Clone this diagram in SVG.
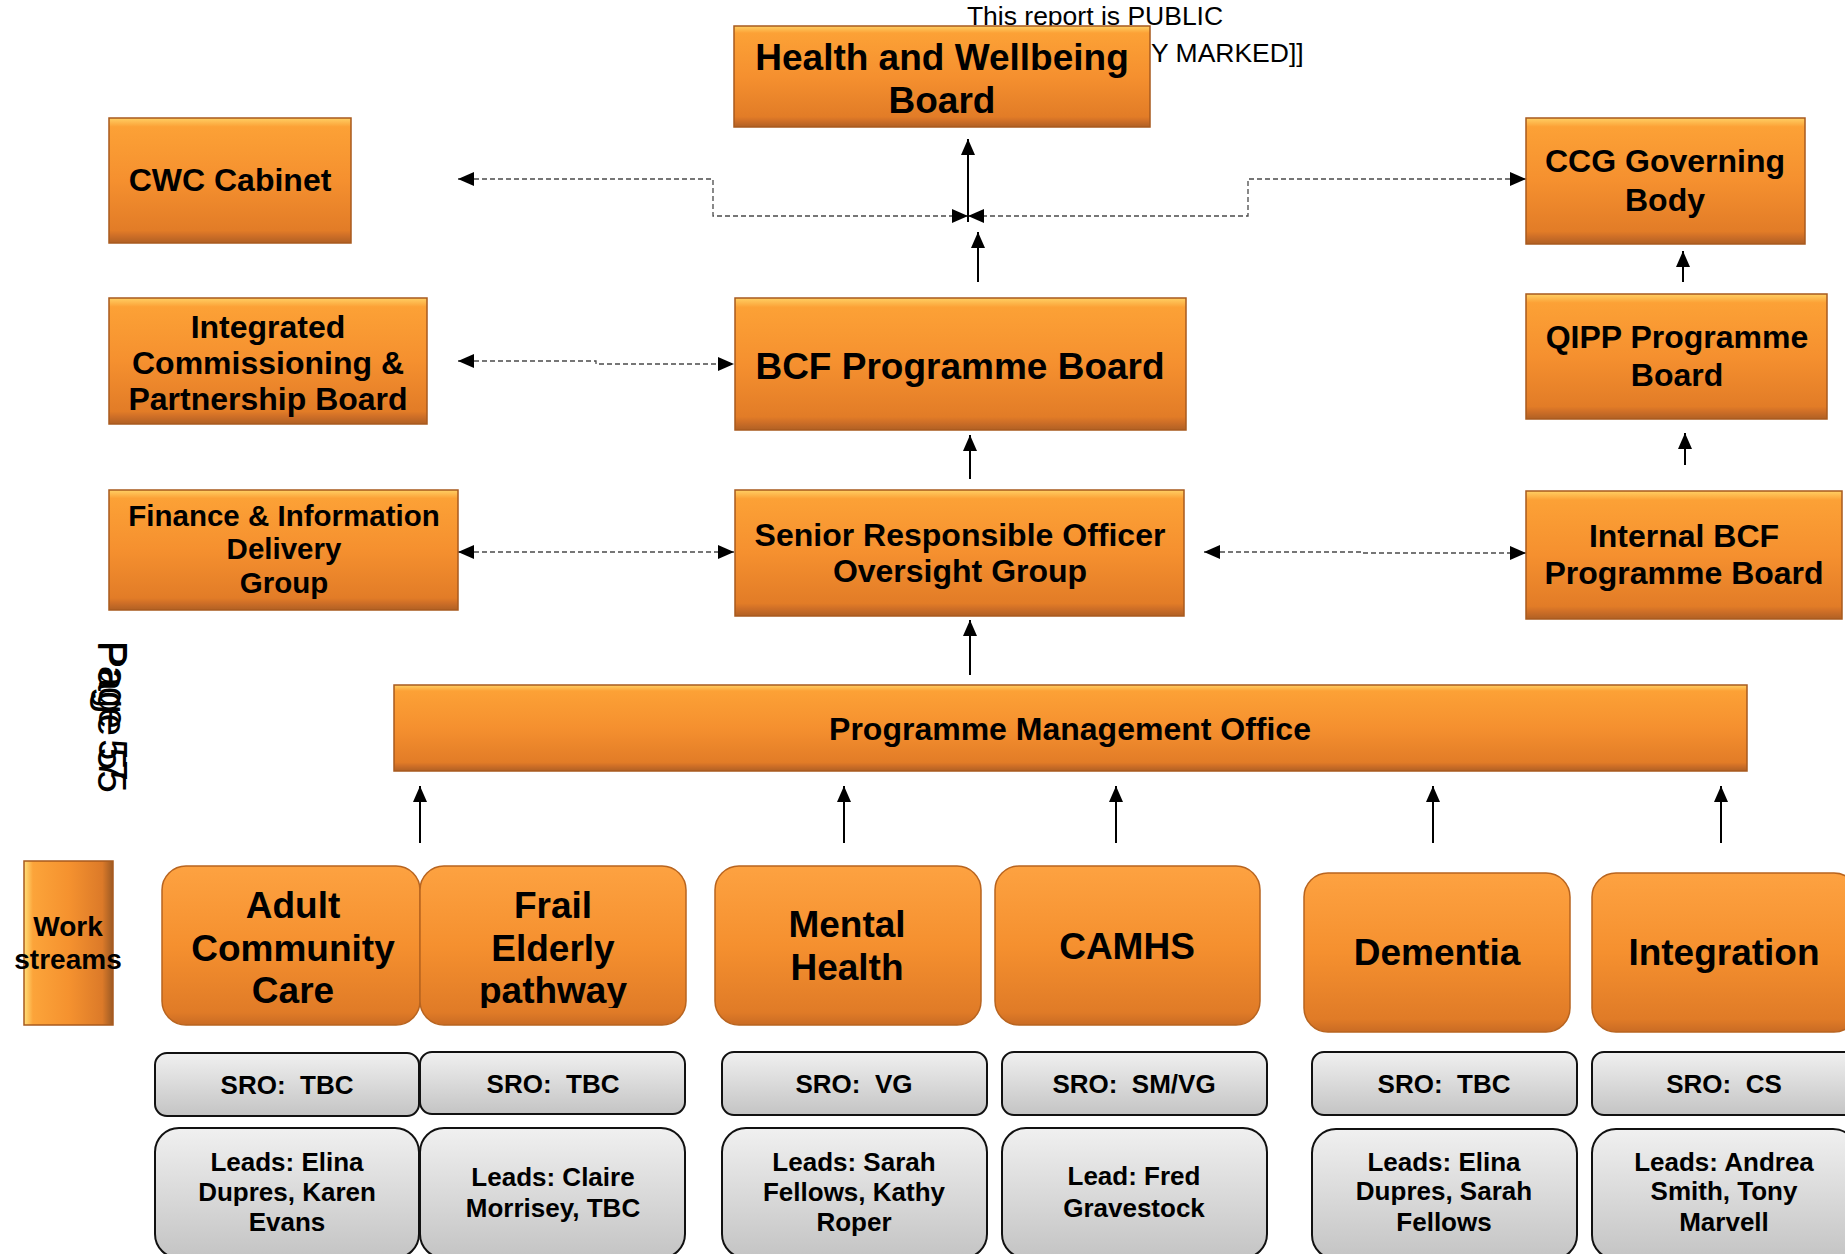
<svg xmlns="http://www.w3.org/2000/svg" width="1845" height="1254" viewBox="0 0 1845 1254">
<defs>
<style>
.t{font-family:"Liberation Sans",Arial,sans-serif;font-weight:bold;text-anchor:middle;fill:#000;white-space:pre}
.ob{fill:url(#gv);stroke:#a85a1e;stroke-width:1.5}
.rb{fill:url(#gr);stroke:#b8641f;stroke-width:1.5}
.gb{fill:url(#gg);stroke:#111;stroke-width:2}
.dash{fill:none;stroke:#4a4a4a;stroke-width:1.3;stroke-dasharray:5 3;marker-start:url(#ah);marker-end:url(#ah)}
.sol{fill:none;stroke:#000;stroke-width:2;marker-end:url(#ah)}
</style>
<linearGradient id="gv" x1="0" y1="0" x2="0" y2="1">
<stop offset="0" stop-color="#ffd064"/>
<stop offset="0.07" stop-color="#fca136"/>
<stop offset="0.5" stop-color="#f5902f"/>
<stop offset="0.9" stop-color="#e27c27"/>
<stop offset="0.94" stop-color="#cf6f27"/>
<stop offset="1" stop-color="#b06024"/>
</linearGradient>
<linearGradient id="gr" x1="0" y1="0" x2="0" y2="1">
<stop offset="0" stop-color="#fda241"/>
<stop offset="0.5" stop-color="#f5902f"/>
<stop offset="0.92" stop-color="#e07b27"/>
<stop offset="1" stop-color="#c96b24"/>
</linearGradient>
<linearGradient id="gw" x1="0" y1="0" x2="1" y2="0">
<stop offset="0" stop-color="#ffe07a"/>
<stop offset="0.1" stop-color="#fca43a"/>
<stop offset="0.5" stop-color="#f5922f"/>
<stop offset="0.88" stop-color="#dc7a29"/>
<stop offset="1" stop-color="#9c5a24"/>
</linearGradient>
<linearGradient id="gg" x1="0" y1="0" x2="0" y2="1">
<stop offset="0" stop-color="#f0f0f0"/>
<stop offset="1" stop-color="#c4c4c4"/>
</linearGradient>
<marker id="ah" viewBox="0 0 16 14" refX="16" refY="7" markerWidth="16" markerHeight="14" markerUnits="userSpaceOnUse" orient="auto-start-reverse">
<path d="M0,0 L16,7 L0,14 z" fill="#000"/>
</marker>
<clipPath id="clipFrail"><rect x="420" y="866" width="266" height="142"/></clipPath>
</defs>
<rect width="1845" height="1254" fill="#fff"/>

<g id="header-note" font-family="'Liberation Sans',Arial,sans-serif" font-size="26.5" fill="#000">
<text x="1095" y="25" text-anchor="middle">This report is PUBLIC</text>
<text x="1151" y="62">Y MARKED]]</text>
</g>

<g id="page-number" font-family="'Liberation Sans',Arial,sans-serif" font-size="40" fill="#000">
<text transform="translate(98,641) rotate(90)" textLength="152" lengthAdjust="spacingAndGlyphs">Page 55</text>
<text transform="translate(99,641) rotate(90)" textLength="140" lengthAdjust="spacingAndGlyphs">Page 57</text>
</g>

<g id="connectors">
<path class="dash" d="M458,179 H713 V216 H968"/>
<path class="dash" d="M1526,179 H1248 V216 H968"/>
<path class="sol" d="M968,222 V139"/>
<path class="sol" d="M978,282 V232"/>
<path class="sol" d="M970,479 V435"/>
<path class="sol" d="M970,675 V620"/>
<path class="sol" d="M1683,282 V251"/>
<path class="sol" d="M1685,465 V433"/>
<path class="dash" d="M458,361 H596 V364 H734"/>
<path class="dash" d="M458,552 H734"/>
<path class="dash" d="M1204,552 H1363 V553 H1526"/>
<path class="sol" d="M420,843 V786"/>
<path class="sol" d="M844,843 V786"/>
<path class="sol" d="M1116,843 V786"/>
<path class="sol" d="M1433,843 V786"/>
<path class="sol" d="M1721,843 V786"/>
</g>

<g id="hwb"><rect class="ob" x="734" y="26" width="416" height="101"/>
<text class="t" x="942" y="70" font-size="37">Health and Wellbeing</text>
<text class="t" x="942" y="113" font-size="37">Board</text></g>

<g id="cwc"><rect class="ob" x="109" y="118" width="242" height="125"/>
<text class="t" x="230" y="191" font-size="32">CWC Cabinet</text></g>

<g id="ccg"><rect class="ob" x="1526" y="118" width="279" height="126"/>
<text class="t" x="1665" y="172" font-size="32">CCG Governing</text>
<text class="t" x="1665" y="211" font-size="32">Body</text></g>

<g id="icpb"><rect class="ob" x="109" y="298" width="318" height="126"/>
<text class="t" x="268" y="338" font-size="32">Integrated</text>
<text class="t" x="268" y="374" font-size="32">Commissioning &amp;</text>
<text class="t" x="268" y="410" font-size="32">Partnership Board</text></g>

<g id="bcf"><rect class="ob" x="735" y="298" width="451" height="132"/>
<text class="t" x="960" y="379" font-size="37">BCF Programme Board</text></g>

<g id="qipp"><rect class="ob" x="1526" y="294" width="301" height="125"/>
<text class="t" x="1677" y="348" font-size="32">QIPP Programme</text>
<text class="t" x="1677" y="386" font-size="32">Board</text></g>

<g id="fidg"><rect class="ob" x="109" y="490" width="349" height="120"/>
<text class="t" x="284" y="526" font-size="29.5">Finance &amp; Information</text>
<text class="t" x="284" y="559" font-size="29.5">Delivery</text>
<text class="t" x="284" y="593" font-size="29.5">Group</text></g>

<g id="sro-group"><rect class="ob" x="735" y="490" width="449" height="126"/>
<text class="t" x="960" y="546" font-size="32">Senior Responsible Officer</text>
<text class="t" x="960" y="582" font-size="32">Oversight Group</text></g>

<g id="internal-bcf"><rect class="ob" x="1526" y="491" width="316" height="128"/>
<text class="t" x="1684" y="547" font-size="32">Internal BCF</text>
<text class="t" x="1684" y="584" font-size="32">Programme Board</text></g>

<g id="pmo"><rect class="ob" x="394" y="685" width="1353" height="86"/>
<text class="t" x="1070" y="740" font-size="32">Programme Management Office</text></g>

<g id="workstreams-label"><rect x="24" y="861" width="89" height="164" fill="url(#gw)" stroke="#a85a1e" stroke-width="1.5"/>
<text class="t" x="68" y="936" font-size="28">Work</text>
<text class="t" x="68" y="969" font-size="28">streams</text></g>

<g id="ws-adult"><rect class="rb" x="162" y="866" width="258" height="159" rx="24"/>
<text class="t" x="293" y="918" font-size="37">Adult</text>
<text class="t" x="293" y="961" font-size="37">Community</text>
<text class="t" x="293" y="1003" font-size="37">Care</text></g>

<g id="ws-frail"><rect class="rb" x="420" y="866" width="266" height="159" rx="24"/>
<g clip-path="url(#clipFrail)">
<text class="t" x="553" y="918" font-size="37">Frail</text>
<text class="t" x="553" y="961" font-size="37">Elderly</text>
<text class="t" x="553" y="1003" font-size="37">pathway</text></g></g>

<g id="ws-mental"><rect class="rb" x="715" y="866" width="266" height="159" rx="24"/>
<text class="t" x="847" y="937" font-size="37">Mental</text>
<text class="t" x="847" y="980" font-size="37">Health</text></g>

<g id="ws-camhs"><rect class="rb" x="995" y="866" width="265" height="159" rx="24"/>
<text class="t" x="1127" y="959" font-size="37">CAMHS</text></g>

<g id="ws-dementia"><rect class="rb" x="1304" y="873" width="266" height="159" rx="24"/>
<text class="t" x="1437" y="965" font-size="37">Dementia</text></g>

<g id="ws-integration"><rect class="rb" x="1592" y="873" width="266" height="159" rx="24"/>
<text class="t" x="1724" y="965" font-size="37">Integration</text></g>

<g id="sro-adult"><rect class="gb" x="155" y="1053" width="264" height="63" rx="12"/>
<text class="t" x="287" y="1094" font-size="26" xml:space="preserve">SRO:  TBC</text></g>
<g id="sro-frail"><rect class="gb" x="420" y="1052" width="265" height="62" rx="12"/>
<text class="t" x="553" y="1093" font-size="26" xml:space="preserve">SRO:  TBC</text></g>
<g id="sro-mental"><rect class="gb" x="722" y="1052" width="265" height="63" rx="12"/>
<text class="t" x="854" y="1093" font-size="26" xml:space="preserve">SRO:  VG</text></g>
<g id="sro-camhs"><rect class="gb" x="1002" y="1052" width="265" height="63" rx="12"/>
<text class="t" x="1134" y="1093" font-size="26" xml:space="preserve">SRO:  SM/VG</text></g>
<g id="sro-dementia"><rect class="gb" x="1312" y="1052" width="265" height="63" rx="12"/>
<text class="t" x="1444" y="1093" font-size="26" xml:space="preserve">SRO:  TBC</text></g>
<g id="sro-integration"><rect class="gb" x="1592" y="1052" width="265" height="63" rx="12"/>
<text class="t" x="1724" y="1093" font-size="26" xml:space="preserve">SRO:  CS</text></g>

<g id="leads-adult"><rect class="gb" x="155" y="1128" width="264" height="130" rx="24"/>
<text class="t" x="287" y="1171" font-size="26">Leads: Elina</text>
<text class="t" x="287" y="1201" font-size="26">Dupres, Karen</text>
<text class="t" x="287" y="1231" font-size="26">Evans</text></g>
<g id="leads-frail"><rect class="gb" x="420" y="1128" width="265" height="130" rx="24"/>
<text class="t" x="553" y="1186" font-size="26">Leads: Claire</text>
<text class="t" x="553" y="1217" font-size="26">Morrisey, TBC</text></g>
<g id="leads-mental"><rect class="gb" x="722" y="1128" width="265" height="130" rx="24"/>
<text class="t" x="854" y="1171" font-size="26">Leads: Sarah</text>
<text class="t" x="854" y="1201" font-size="26">Fellows, Kathy</text>
<text class="t" x="854" y="1231" font-size="26">Roper</text></g>
<g id="leads-camhs"><rect class="gb" x="1002" y="1128" width="265" height="130" rx="24"/>
<text class="t" x="1134" y="1185" font-size="26">Lead: Fred</text>
<text class="t" x="1134" y="1217" font-size="26">Gravestock</text></g>
<g id="leads-dementia"><rect class="gb" x="1312" y="1129" width="265" height="130" rx="24"/>
<text class="t" x="1444" y="1171" font-size="26">Leads: Elina</text>
<text class="t" x="1444" y="1200" font-size="26">Dupres, Sarah</text>
<text class="t" x="1444" y="1231" font-size="26">Fellows</text></g>
<g id="leads-integration"><rect class="gb" x="1592" y="1129" width="265" height="130" rx="24"/>
<text class="t" x="1724" y="1171" font-size="26">Leads: Andrea</text>
<text class="t" x="1724" y="1200" font-size="26">Smith, Tony</text>
<text class="t" x="1724" y="1231" font-size="26">Marvell</text></g>
</svg>
